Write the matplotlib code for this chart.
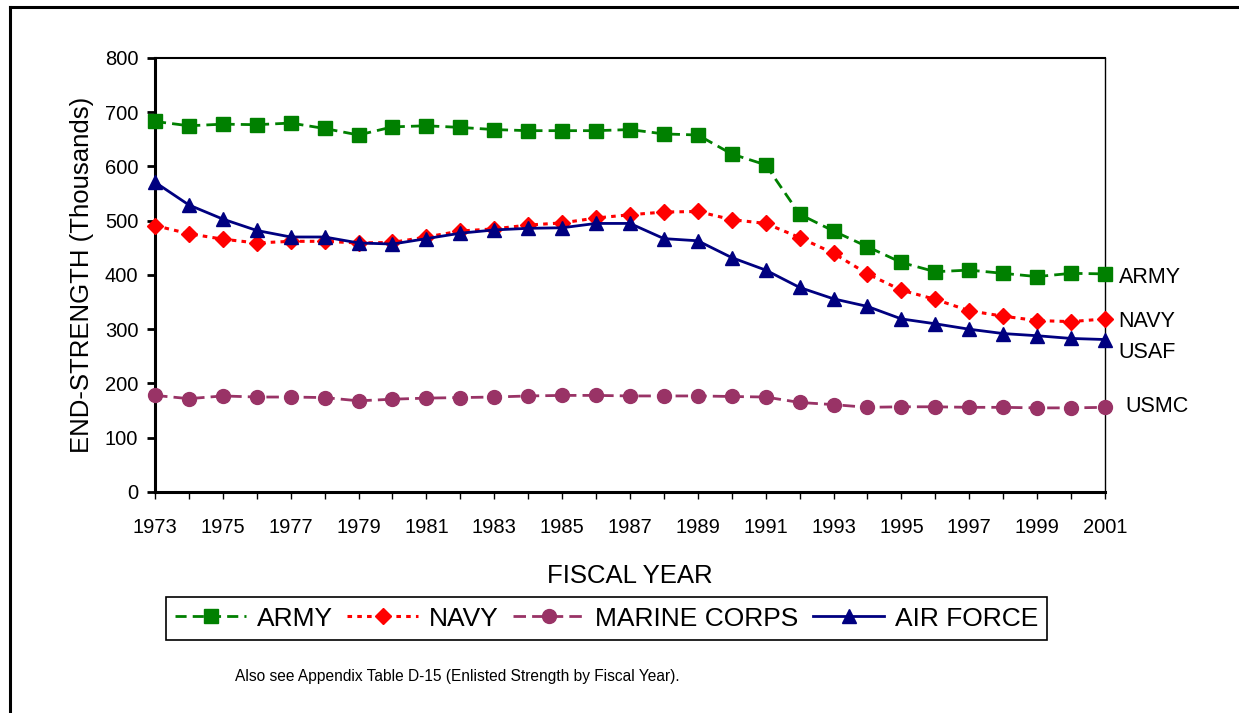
import numpy as np
import matplotlib
matplotlib.use("Agg")
import matplotlib.pyplot as plt
from matplotlib.lines import Line2D
from matplotlib.ticker import MultipleLocator, FixedLocator

plt.rcParams['font.family'] = ['Liberation Sans', 'DejaVu Sans']

# Data (thousands)
years = list(range(1973, 2002))
army = [683, 675, 678, 677, 680, 670, 658, 673, 675, 672, 668, 666, 666, 666, 668,
        660, 658, 623, 603, 512, 481, 452, 423, 406, 409, 403, 397, 403, 402]
navy = [491, 476, 466, 459, 462, 462, 459, 460, 470, 481, 485, 492, 496, 505, 511,
        516, 517, 502, 495, 469, 440, 402, 372, 355, 334, 324, 316, 314, 319]
marines = [178, 172, 177, 175, 175, 174, 168, 171, 173, 174, 175, 177, 178, 178, 177,
           177, 177, 176, 175, 165, 161, 156, 157, 157, 156, 156, 155, 155, 156]
air_force = [571, 529, 503, 482, 470, 470, 459, 457, 467, 477, 483, 486, 487, 495, 495,
             467, 463, 432, 409, 377, 356, 342, 319, 310, 300, 292, 288, 283, 281]

series_names = ['ARMY', 'NAVY', 'MARINE CORPS', 'AIR FORCE']
end_labels = ['ARMY', 'NAVY', 'USAF', 'USMC']
end_label_y = [395, 315, 258, 158]

fig = plt.figure(figsize=(12.39, 7.13), dpi=100)
ax = fig.add_axes([0.1251, 0.31, 0.7667, 0.6087])

ax.plot(years, army, color='#008000', lw=2, linestyle=(0, (4, 2.2)),
        marker='s', ms=10, label=series_names[0], clip_on=False, zorder=3)
ax.plot(years, navy, color='#FF0000', lw=2.2, linestyle=(0, (1.5, 1.7)),
        marker='D', ms=8, label=series_names[1], clip_on=False, zorder=3)
ax.plot(years, marines, color='#993366', lw=2, linestyle=(0, (4.5, 2.2)),
        marker='o', ms=10, label=series_names[2], clip_on=False, zorder=3)
ax.plot(years, air_force, color='#000080', lw=2, linestyle='-',
        marker='^', ms=10.5, label=series_names[3], clip_on=False, zorder=3)

ax.set_xlim(1973, 2001)
ax.set_ylim(0, 800)
ax.xaxis.set_major_locator(FixedLocator(years[::2]))
ax.xaxis.set_minor_locator(MultipleLocator(1))
ax.yaxis.set_major_locator(MultipleLocator(100))

ax.tick_params(axis='x', which='both', direction='out', length=5, width=1,
               labelsize=14.5, pad=14)
ax.tick_params(axis='y', which='major', direction='out', length=6, width=2,
               labelsize=14.5, pad=6)

ax.spines['left'].set_linewidth(2.2)
ax.spines['bottom'].set_linewidth(2.2)
ax.spines['top'].set_linewidth(1.5)
ax.spines['right'].set_linewidth(1.0)

ax.set_xlabel('FISCAL YEAR', fontsize=18.5, labelpad=19)
ax.set_ylabel('END-STRENGTH (Thousands)', fontsize=18.5, labelpad=8)

# labels at the right end of each line
for lab, yv in zip(end_labels, end_label_y):
    xoff = 2001.6 if lab == 'USMC' else 2001.4
    ax.text(xoff, yv, lab, fontsize=15.5, va='center', ha='left', clip_on=False)

leg = fig.legend(loc='center', bbox_to_anchor=(0.4895, 0.1325), ncol=4,
                 fontsize=19, handlelength=2.7, handletextpad=0.4,
                 columnspacing=0.55, borderpad=0.35, fancybox=False,
                 edgecolor='black', framealpha=1)
leg.get_frame().set_linewidth(1.2)

fig.text(235 / 1239, 1 - 677 / 713,
         'Also see Appendix Table D-15 (Enlisted Strength by Fiscal Year).',
         fontsize=11.2, va='center', ha='left')

# outer frame (top and left edges)
fig.add_artist(Line2D([10 / 1239, 1], [1 - 7 / 713, 1 - 7 / 713],
                      transform=fig.transFigure, color='black', lw=2.2))
fig.add_artist(Line2D([10 / 1239, 10 / 1239], [0, 1 - 7 / 713],
                      transform=fig.transFigure, color='black', lw=2.2))

fig.savefig('out.png', dpi=100)
